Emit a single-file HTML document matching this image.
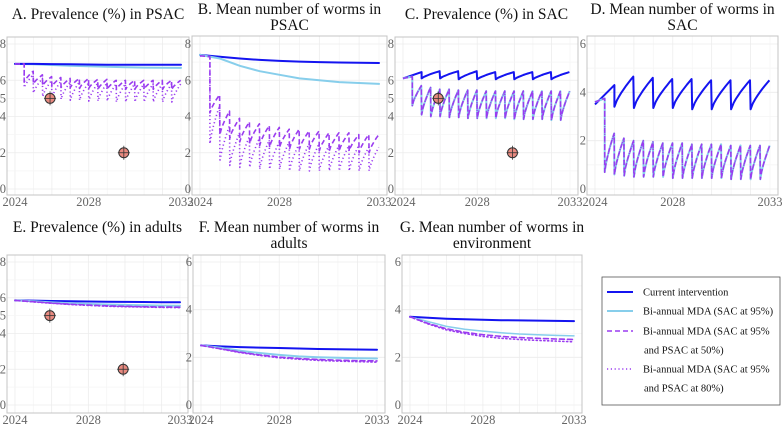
<!DOCTYPE html>
<html><head><meta charset="utf-8">
<style>
body{margin:0;background:#fff;width:782px;height:428px;overflow:hidden;font-family:"Liberation Serif",serif;}
svg text{font-family:"Liberation Serif",serif;}
</style></head>
<body>
<svg id="chart" width="782" height="428" viewBox="0 0 782 428" xmlns="http://www.w3.org/2000/svg"></svg>
<script>
// ---------- data ----------
const years = [2024,2025,2026,2027,2028,2029,2030,2031,2032,2033];
const xTickLabels = ["2024","2028","2033"];
const xTickValues = [2024,2028,2033];
const ticksPrev = [0,2,4,5,6,8];
const ticksB = [0,2,4,6,8];
const ticksWorm = [0,2,4,6];
const surveyYears = [2025.9,2029.9];
const surveyPrev = [5.0,2.0];

// A
const aCurrent = [6.9,6.9,6.89,6.88,6.87,6.86,6.86,6.85,6.85,6.85];
const aSac = [6.9,6.88,6.84,6.8,6.77,6.74,6.72,6.7,6.69,6.68];
const aPsac50Tr = [5.9,5.8,5.7,5.65,5.6,5.6,5.55,5.55,5.5,5.5,5.5,5.5,5.5,5.5,5.5,5.5,5.5];
const aPsac50Pk = [6.5,6.3,6.2,6.15,6.1,6.1,6.1,6.05,6.05,6.0,6.0,6.0,6.0,6.0,6.0,6.0,6.0];
const aPsac80Tr = [5.6,5.3,5.1,5.0,4.95,4.9,4.9,4.85,4.85,4.85,4.8,4.8,4.8,4.8,4.8,4.8,4.8];
const aPsac80Pk = [6.3,6.1,6.0,5.95,5.9,5.9,5.85,5.85,5.85,5.8,5.8,5.8,5.8,5.8,5.8,5.8,5.8];
// B
const bCurrent = [7.4,7.3,7.2,7.12,7.07,7.03,7.0,6.98,6.96,6.95];
const bSac = [7.4,7.2,6.8,6.5,6.3,6.1,6.0,5.9,5.85,5.8];
const bPsac50Tr = [4.2,3.0,2.8,2.6,2.5,2.4,2.3,2.3,2.2,2.2,2.2,2.1,2.1,2.1,2.1,2.0,2.0];
const bPsac50Pk = [5.2,4.3,3.9,3.7,3.6,3.5,3.4,3.3,3.3,3.2,3.2,3.1,3.1,3.1,3.0,3.0,3.0];
const bPsac80Tr = [2.5,1.5,1.3,1.2,1.2,1.1,1.1,1.1,1.0,1.0,1.0,1.0,1.0,1.0,1.0,1.0,1.0];
const bPsac80Pk = [4.6,3.5,3.1,2.9,2.8,2.7,2.6,2.6,2.5,2.5,2.5,2.4,2.4,2.4,2.4,2.3,2.3];
// C
const cCurTr = [6.1,6.1,6.05,6.05,6.05,6.05,6.05,6.05];
const cCurPk = [6.5,6.5,6.5,6.45,6.45,6.45,6.45,6.45];
const cSacTr = [4.6,4.1,4.0,4.0,3.95,3.95,3.9,3.9,3.9,3.9,3.9,3.85,3.85,3.85,3.85,3.8,3.8];
const cSacPk = [5.7,5.6,5.5,5.5,5.45,5.45,5.45,5.4,5.4,5.4,5.4,5.4,5.4,5.4,5.4,5.4,5.4];
// D
const dCurTr = [3.4,3.35,3.35,3.35,3.3,3.3,3.3,3.3];
const dCurPk = [4.65,4.6,4.55,4.55,4.5,4.5,4.5,4.5];
const dSacTr = [0.7,0.6,0.55,0.5,0.5,0.5,0.5,0.45,0.45,0.45,0.45,0.45,0.45,0.4,0.4,0.4,0.4];
const dSacPk = [2.3,2.1,2.0,2.0,1.95,1.9,1.9,1.9,1.85,1.85,1.85,1.85,1.8,1.8,1.8,1.8,1.8];
// E
const eCurrent = [5.85,5.84,5.82,5.8,5.79,5.78,5.77,5.76,5.75,5.75];
const eSac = [5.85,5.8,5.74,5.69,5.65,5.62,5.6,5.58,5.56,5.55];
const ePsac50 = [5.85,5.78,5.7,5.64,5.59,5.55,5.52,5.5,5.48,5.47];
const ePsac80 = [5.85,5.77,5.69,5.62,5.57,5.53,5.5,5.48,5.46,5.45];
// F
const fCurrent = [2.5,2.46,2.43,2.41,2.39,2.37,2.35,2.34,2.33,2.32];
const fSac = [2.5,2.4,2.28,2.18,2.1,2.04,2.0,1.98,1.96,1.95];
const fPsac50 = [2.5,2.36,2.22,2.1,2.01,1.95,1.91,1.88,1.86,1.85];
const fPsac80 = [2.5,2.35,2.2,2.08,1.98,1.92,1.87,1.84,1.82,1.8];
// G
const gCurrent = [3.7,3.66,3.62,3.6,3.58,3.56,3.55,3.54,3.53,3.52];
const gSac = [3.7,3.5,3.3,3.18,3.1,3.03,2.98,2.95,2.92,2.9];
const gPsac50 = [3.7,3.42,3.2,3.05,2.95,2.88,2.83,2.8,2.77,2.75];
const gPsac80 = [3.7,3.4,3.15,3.0,2.88,2.8,2.75,2.71,2.68,2.65];

// ---------- drawing ----------
const NS="http://www.w3.org/2000/svg";
const svg=document.getElementById('chart');
const C_CUR="#1414f0", C_SAC="#87ceeb", C_P="#9a3cf0";
const SERIF='"Liberation Serif", serif';
function mk(tag,attrs,parent){const e=document.createElementNS(NS,tag);for(const k in attrs)e.setAttribute(k,attrs[k]);(parent||svg).appendChild(e);return e;}

function makePanel(name,box,ymax,yticks,titleLines,titleY){
  const g=mk('g',{});
  
  
  const x=v=>box.x0+8+(v-2024)/9*(box.x1-box.x0-16);
  const y=v=>box.yb-(v/ymax)*(box.yb-box.yt);
  const cx=(box.x0+box.x1)/2;
  titleLines.forEach((t,i)=>{
    const tx=mk('text',{x:cx,y:titleY+i*16,'text-anchor':'middle','font-size':'15.5',fill:'#111','font-family':SERIF},g);
    tx.textContent=t;
    
    
  });
  for(let yr=2024;yr<=2033;yr+=1){mk('line',{x1:x(yr),x2:x(yr),y1:box.top,y2:box.bot,stroke:yr%2===0?'#ececec':'#f5f5f5','stroke-width':0.8},g);}
  for(let v=0;v<=ymax;v+=1){mk('line',{x1:box.x0,x2:box.x1,y1:y(v),y2:y(v),stroke:v%2===0?'#ececec':'#f5f5f5','stroke-width':0.8},g);}
  const fr=mk('rect',{x:box.x0,y:box.top,width:box.x1-box.x0,height:box.bot-box.top,fill:'none',stroke:'#c4c4c4','stroke-width':1},g);
  
  
  yticks.forEach(v=>{
    const t=mk('text',{x:box.x0-1,y:y(v)+4,'text-anchor':'end','font-size':'12.5',fill:'#666','font-family':SERIF},g);
    t.textContent=String(v);
    
    
  });
  xTickValues.forEach((v,i)=>{
    const t=mk('text',{x:x(v),y:box.bot+11,'text-anchor':'middle','font-size':'12.5',fill:'#666','font-family':SERIF},g);
    t.textContent=xTickLabels[i];
    
    
  });
  return {g,x,y};
}
function smooth(P,vals,color,dash,w,name){
  const pts=years.map((yr,i)=>P.x(yr).toFixed(1)+','+P.y(vals[i]).toFixed(1)).join(' ');
  const e=mk('polyline',{points:pts,fill:'none',stroke:color,'stroke-width':w,'stroke-dasharray':dash||'none','stroke-linecap':'round'},P.g);
  
  
}
function saw(P,preStart,preEnd,t0,per,tr,pk,color,dash,w,name){
  const pts=[[2024,preStart],[t0,preEnd]];
  for(let k=0;k<tr.length;k++){
    const a=t0+k*per;
    for(let s=0;s<=8;s++){
      const f=s/8;const t=a+f*per*0.97;
      if(t>2033)break;
      pts.push([t,tr[k]+(pk[k]-tr[k])*Math.pow(f,0.75)]);
    }
  }
  const str=pts.map(p=>P.x(p[0]).toFixed(1)+','+P.y(p[1]).toFixed(1)).join(' ');
  const e=mk('polyline',{points:str,fill:'none',stroke:color,'stroke-width':w,'stroke-dasharray':dash||'none','stroke-linejoin':'round'},P.g);
  
  
}
function survey(P){
  surveyYears.forEach((yr,i)=>{
    const cx=P.x(yr),cy=P.y(surveyPrev[i]);
    const c=mk('circle',{cx,cy,r:5,fill:'#e98a80',stroke:'#333','stroke-width':1},P.g);
    
    
    mk('line',{x1:cx-6,x2:cx+6,y1:cy,y2:cy,stroke:'#333','stroke-width':0.8},P.g);
    mk('line',{x1:cx,x2:cx,y1:cy-7,y2:cy+7,stroke:'#333','stroke-width':0.8},P.g);
  });
}
const DASH="5,3", DOT="1.2,2.6";
let P=makePanel('panel-a-prevalence-psac',{x0:7,x1:189,top:37,bot:195,yt:44,yb:189},8,ticksPrev,["A. Prevalence (%) in PSAC"],19);
smooth(P,aSac,C_SAC,null,2,'series-sac95');
smooth(P,aCurrent,C_CUR,null,2,'series-current');
saw(P,6.9,6.9,2024.5,0.5,aPsac80Tr,aPsac80Pk,C_P,DOT,1.6,'series-psac80');
saw(P,6.9,6.9,2024.5,0.5,aPsac50Tr,aPsac50Pk,C_P,DASH,1.6,'series-psac50');
survey(P);
P=makePanel('panel-b-worms-psac',{x0:192,x1:387,top:36,bot:195,yt:44,yb:189},8,ticksB,["B. Mean number of worms in","PSAC"],14);
smooth(P,bCurrent,C_CUR,null,2,'series-current');
smooth(P,bSac,C_SAC,null,2,'series-sac95');
saw(P,7.35,7.3,2024.5,0.5,bPsac80Tr,bPsac80Pk,C_P,DOT,1.6,'series-psac80');
saw(P,7.35,7.3,2024.5,0.5,bPsac50Tr,bPsac50Pk,C_P,DASH,1.6,'series-psac50');
P=makePanel('panel-c-prevalence-sac',{x0:395,x1:578,top:37,bot:195,yt:44,yb:189},8,ticksPrev,["C. Prevalence (%) in SAC"],19);
saw(P,6.1,6.45,2025,1,cCurTr,cCurPk,C_CUR,null,2,'series-current');
saw(P,6.1,6.2,2024.5,0.5,cSacTr,cSacPk,C_SAC,null,2,'series-sac95');
saw(P,6.1,6.2,2024.5,0.5,cSacTr,cSacPk,C_P,DASH,1.5,'series-psac50');
saw(P,6.1,6.2,2024.5,0.5,cSacTr,cSacPk,C_P,DOT,1.5,'series-psac80');
survey(P);
P=makePanel('panel-d-worms-sac',{x0:587,x1:778,top:36,bot:195,yt:44,yb:189},6,ticksWorm,["D. Mean number of worms in","SAC"],14);
saw(P,3.5,4.3,2025,1,dCurTr,dCurPk,C_CUR,null,2,'series-current');
saw(P,3.6,3.75,2024.5,0.5,dSacTr,dSacPk,C_SAC,null,2,'series-sac95');
saw(P,3.6,3.75,2024.5,0.5,dSacTr,dSacPk,C_P,DASH,1.5,'series-psac50');
saw(P,3.6,3.75,2024.5,0.5,dSacTr,dSacPk,C_P,DOT,1.5,'series-psac80');
P=makePanel('panel-e-prevalence-adults',{x0:7,x1:188,top:255,bot:413,yt:262,yb:405},8,ticksPrev,["E. Prevalence (%) in adults"],232);
smooth(P,eCurrent,C_CUR,null,2,'series-current');
smooth(P,eSac,C_SAC,null,2,'series-sac95');
smooth(P,ePsac50,C_P,DASH,1.6,'series-psac50');
smooth(P,ePsac80,C_P,DOT,1.6,'series-psac80');
survey(P);
P=makePanel('panel-f-worms-adults',{x0:193,x1:385,top:255,bot:413,yt:262,yb:405},6,ticksWorm,["F. Mean number of worms in","adults"],232);
smooth(P,fCurrent,C_CUR,null,2,'series-current');
smooth(P,fSac,C_SAC,null,2,'series-sac95');
smooth(P,fPsac50,C_P,DASH,1.6,'series-psac50');
smooth(P,fPsac80,C_P,DOT,1.6,'series-psac80');
P=makePanel('panel-g-worms-environment',{x0:402,x1:582,top:255,bot:413,yt:262,yb:405},6,ticksWorm,["G. Mean number of worms in","environment"],232);
smooth(P,gCurrent,C_CUR,null,2,'series-current');
smooth(P,gSac,C_SAC,null,1.5,'series-sac95');
smooth(P,gPsac50,C_P,DASH,1.6,'series-psac50');
smooth(P,gPsac80,C_P,DOT,1.6,'series-psac80');

const L=mk('g',{});


mk('rect',{x:602,y:277,width:178,height:128,fill:'#fff',stroke:'#555','stroke-width':0.8},L);
const legItems=[
  {c:C_CUR,d:null,w:2,y:292,t:["Current intervention"]},
  {c:C_SAC,d:null,w:2,y:311,t:["Bi-annual MDA (SAC at 95%)"]},
  {c:C_P,d:DASH,w:1.6,y:331,t:["Bi-annual MDA (SAC at 95%","and PSAC at 50%)"]},
  {c:C_P,d:DOT,w:1.6,y:369,t:["Bi-annual MDA (SAC at 95%","and PSAC at 80%)"]}
];
legItems.forEach(it=>{
  const g=mk('g',{},L);
  
  
  mk('line',{x1:607,x2:633,y1:it.y,y2:it.y,stroke:it.c,'stroke-width':it.w,'stroke-dasharray':it.d||'none'},g);
  it.t.forEach((s,i)=>{
    const t=mk('text',{x:i===0?643:644,y:it.y+3.5+i*19,'font-size':'10.5',fill:'#111','font-family':SERIF},g);
    t.textContent=s;
  });
});
</script>
</body></html>
